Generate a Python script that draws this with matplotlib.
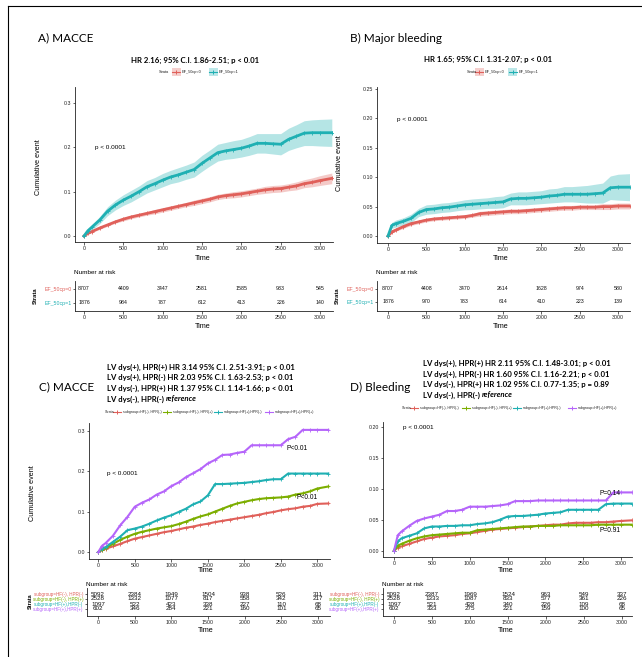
import matplotlib
matplotlib.use('Agg')
import numpy as np
import matplotlib.pyplot as plt
from matplotlib.lines import Line2D
from matplotlib.patches import Rectangle

W, H = 642, 657
NARROW = ['Liberation Sans Narrow', 'Liberation Sans', 'DejaVu Sans']
TITLE = ['Lato', 'DejaVu Sans']
plt.rcParams['font.family'] = NARROW

RED, GREEN, TEAL, PURPLE = '#E0605A', '#7CAE00', '#1FB0B3', '#B565FA'

# ---- data ----
t = [0, 50, 100, 200, 300, 400, 500, 600, 700, 800, 900, 1000, 1100, 1200, 1300, 1400, 1500,
     1600, 1700, 1800, 1900, 2000, 2100, 2200, 2300, 2400, 2500, 2600, 2700, 2800, 2900, 3000, 3150]
risk_times = [0, 500, 1000, 1500, 2000, 2500, 3000]

# A) MACCE
a_ef0 = [0, 0.006, 0.010, 0.018, 0.025, 0.032, 0.038, 0.043, 0.047, 0.051, 0.055, 0.059, 0.063, 0.067,
         0.071, 0.075, 0.079, 0.083, 0.088, 0.091, 0.093, 0.095, 0.098, 0.101, 0.104, 0.106, 0.107,
         0.110, 0.113, 0.118, 0.121, 0.125, 0.130]
a_ef0_hw = [0, 0.002, 0.002, 0.003, 0.003, 0.003, 0.004, 0.004, 0.004, 0.004, 0.005, 0.005, 0.005, 0.005,
            0.005, 0.006, 0.006, 0.006, 0.006, 0.006, 0.007, 0.007, 0.007, 0.007, 0.008, 0.008, 0.008,
            0.008, 0.009, 0.009, 0.010, 0.011, 0.012]
a_ef1 = [0, 0.012, 0.020, 0.036, 0.056, 0.070, 0.081, 0.090, 0.100, 0.111, 0.118, 0.126, 0.133, 0.138,
         0.144, 0.150, 0.164, 0.176, 0.188, 0.192, 0.195, 0.198, 0.203, 0.209, 0.209, 0.208, 0.207,
         0.218, 0.225, 0.232, 0.233, 0.233, 0.233]
a_ef1_hw = [0, 0.004, 0.006, 0.008, 0.010, 0.011, 0.012, 0.013, 0.013, 0.014, 0.014, 0.015, 0.015, 0.016,
            0.016, 0.017, 0.018, 0.018, 0.019, 0.019, 0.020, 0.020, 0.021, 0.022, 0.022, 0.023, 0.024,
            0.025, 0.026, 0.028, 0.029, 0.030, 0.031]
a_risk = [[8707, 4409, 3447, 2581, 1585, 933, 545],
          [1876, 984, 787, 612, 413, 226, 140]]

# B) Major bleeding
b_ef0 = [0, 0.007, 0.010, 0.016, 0.021, 0.024, 0.027, 0.029, 0.030, 0.031, 0.032, 0.033, 0.035, 0.038,
         0.039, 0.040, 0.041, 0.042, 0.042, 0.043, 0.044, 0.045, 0.046, 0.047, 0.048, 0.048, 0.049,
         0.049, 0.049, 0.050, 0.050, 0.051, 0.051]
b_ef0_hw = [0, 0.002, 0.002, 0.003, 0.003, 0.003, 0.003, 0.003, 0.003, 0.003, 0.003, 0.003, 0.003, 0.004,
            0.004, 0.004, 0.004, 0.004, 0.004, 0.004, 0.004, 0.004, 0.004, 0.004, 0.004, 0.004, 0.004,
            0.004, 0.004, 0.005, 0.005, 0.005, 0.005]
b_ef1 = [0, 0.018, 0.021, 0.025, 0.030, 0.040, 0.045, 0.046, 0.048, 0.049, 0.051, 0.053, 0.054, 0.055,
         0.056, 0.057, 0.058, 0.063, 0.064, 0.064, 0.065, 0.066, 0.068, 0.069, 0.071, 0.071, 0.071,
         0.071, 0.072, 0.073, 0.082, 0.083, 0.083]
b_ef1_hw = [0, 0.005, 0.006, 0.006, 0.007, 0.007, 0.008, 0.008, 0.008, 0.008, 0.008, 0.0085, 0.009, 0.009,
            0.009, 0.010, 0.010, 0.010, 0.011, 0.011, 0.011, 0.011, 0.012, 0.012, 0.013, 0.013, 0.014,
            0.015, 0.016, 0.017, 0.020, 0.022, 0.023]
b_risk = [[8707, 4408, 3470, 2614, 1628, 974, 580],
          [1876, 970, 783, 614, 410, 223, 139]]

# C) MACCE by subgroup
c_mm = [0, 0.004, 0.008, 0.014, 0.020, 0.027, 0.033, 0.037, 0.041, 0.045, 0.049, 0.052, 0.056, 0.060,
        0.063, 0.067, 0.070, 0.074, 0.077, 0.080, 0.083, 0.086, 0.089, 0.092, 0.096, 0.099, 0.103,
        0.106, 0.108, 0.112, 0.114, 0.119, 0.120]
c_mp = [0, 0.006, 0.010, 0.020, 0.030, 0.038, 0.045, 0.050, 0.054, 0.058, 0.061, 0.064, 0.069, 0.075,
        0.082, 0.088, 0.093, 0.100, 0.107, 0.114, 0.120, 0.124, 0.128, 0.131, 0.133, 0.134, 0.135,
        0.137, 0.142, 0.145, 0.150, 0.157, 0.162]
c_pm = [0, 0.008, 0.012, 0.025, 0.038, 0.054, 0.058, 0.063, 0.070, 0.078, 0.085, 0.091, 0.099, 0.107,
        0.118, 0.125, 0.140, 0.168, 0.168, 0.169, 0.170, 0.171, 0.173, 0.175, 0.178, 0.180, 0.180,
        0.194, 0.194, 0.194, 0.194, 0.194, 0.194]
c_pp = [0, 0.015, 0.022, 0.040, 0.066, 0.087, 0.112, 0.122, 0.130, 0.142, 0.150, 0.163, 0.172, 0.185,
        0.195, 0.205, 0.219, 0.228, 0.240, 0.241, 0.245, 0.248, 0.264, 0.264, 0.264, 0.264, 0.264,
        0.279, 0.285, 0.302, 0.302, 0.302, 0.302]
c_risk = [[5092, 2384, 1949, 1504, 938, 526, 311],
          [2528, 1332, 1077, 817, 558, 342, 217],
          [1097, 522, 423, 338, 227, 110, 68],
          [602, 346, 284, 221, 160, 101, 65]]

# D) Bleeding by subgroup
d_mm = [0, 0.005, 0.007, 0.011, 0.015, 0.019, 0.021, 0.023, 0.024, 0.025, 0.027, 0.028, 0.030, 0.032,
        0.034, 0.035, 0.036, 0.037, 0.038, 0.039, 0.040, 0.041, 0.042, 0.042, 0.044, 0.045, 0.045,
        0.045, 0.046, 0.046, 0.047, 0.048, 0.049]
d_mp = [0, 0.008, 0.011, 0.016, 0.020, 0.023, 0.025, 0.026, 0.027, 0.028, 0.029, 0.029, 0.033, 0.034,
        0.035, 0.036, 0.037, 0.038, 0.039, 0.039, 0.040, 0.040, 0.040, 0.041, 0.041, 0.041, 0.041,
        0.041, 0.042, 0.042, 0.042, 0.042, 0.042]
d_pm = [0, 0.015, 0.020, 0.024, 0.028, 0.036, 0.039, 0.039, 0.040, 0.040, 0.041, 0.041, 0.043, 0.044,
        0.046, 0.050, 0.055, 0.056, 0.056, 0.057, 0.058, 0.060, 0.061, 0.062, 0.066, 0.066, 0.066,
        0.066, 0.066, 0.075, 0.076, 0.076, 0.076]
d_pp = [0, 0.025, 0.031, 0.040, 0.048, 0.052, 0.055, 0.058, 0.064, 0.064, 0.066, 0.071, 0.071, 0.071,
        0.072, 0.073, 0.075, 0.080, 0.080, 0.080, 0.081, 0.081, 0.081, 0.081, 0.081, 0.081, 0.081,
        0.081, 0.081, 0.081, 0.094, 0.094, 0.094]
d_risk = [[5092, 2387, 1969, 1524, 963, 549, 337],
          [2528, 1333, 1087, 833, 577, 361, 226],
          [1097, 521, 428, 340, 226, 109, 68],
          [602, 333, 275, 221, 159, 100, 65]]

ef_labels = ['EF_50cp=0', 'EF_50cp=1']
sub_labels = ['subgroup=HF(-), HPR(-)', 'subgroup=HF(-), HPR(+)',
              'subgroup=HF(+),HPR(-)', 'subgroup=HF(+),HPR(+)']


fig = plt.figure(figsize=(W / 100, H / 100), dpi=100)
fig.patch.set_facecolor('white')


def add_ax(left, top, right, bottom):
    return fig.add_axes([left / W, 1 - bottom / H, (right - left) / W, (bottom - top) / H])


def px_lim(a, b, p0, p1, v0, v1):
    k = (v1 - v0) / (p1 - p0)
    return v0 + (a - p0) * k, v0 + (b - p0) * k


def ftext(x, y, s, **kw):
    kw.setdefault('ha', 'left')
    kw.setdefault('va', 'center')
    return fig.text(x / W, 1 - y / H, s, **kw)


def style(ax):
    for side in ('top', 'right'):
        ax.spines[side].set_visible(False)
    for side in ('left', 'bottom'):
        ax.spines[side].set_linewidth(0.6)
        ax.spines[side].set_color('#222222')
    ax.tick_params(labelsize=3.8, length=1.8, width=0.5, pad=1.2, colors='#222222')
    ax.set_xticks(risk_times)


def km_panel(box, xmap, ymap, yticks, ylabels, curves, colors, hws=None, lw=2.0, ms=2.4):
    ax = add_ax(*box)
    ax.set_xlim(px_lim(box[0], box[2], xmap[0], xmap[1], 0, 3000))
    ax.set_ylim(px_lim(box[3], box[1], ymap[0], ymap[1], 0, yticks[-1]))
    for i, (y, c) in enumerate(zip(curves, colors)):
        y = np.array(y)
        if hws is not None:
            hw = np.array(hws[i])
            ax.fill_between(t, y - hw, y + hw, color=c, alpha=0.33, lw=0)
        ax.plot(t, y, color=c, lw=lw, solid_joinstyle='round')
        ax.plot(t, y, ls='none', marker='+', ms=ms, mew=0.6, color=c)
    style(ax)
    ax.set_yticks(yticks)
    ax.set_yticklabels(ylabels)
    return ax


def risk_table(box, xmap, rows_px, labels, colors, rows, fs, lab_fs):
    ax = add_ax(*box)
    n = len(rows)
    ax.set_xlim(px_lim(box[0], box[2], xmap[0], xmap[1], 0, 3000))
    ax.set_ylim(px_lim(box[3], box[1], rows_px[-1], rows_px[0], 1, n))
    for i, r in enumerate(rows):
        for tt, v in zip(risk_times, r):
            ax.text(tt, n - i, str(v), ha='center', va='center', fontsize=fs, color='#111111')
    style(ax)
    ax.set_yticks([n - i for i in range(n)])
    ax.set_yticklabels(labels)
    ax.tick_params(axis='y', labelsize=lab_fs, pad=1.0, length=1.5)
    for lbl, c in zip(ax.get_yticklabels(), colors):
        lbl.set_color(c)
    return ax


def legend_row(y, strata_x, xs, labels, colors, box, fs):
    ftext(strata_x, y, 'Strata', fontsize=fs, color='#222222')
    for x, lab, c in zip(xs, labels, colors):
        if box:
            fig.add_artist(Rectangle(((x - 4.5) / W, 1 - (y + 4) / H), 9 / W, 8 / H,
                                     transform=fig.transFigure, color=c, alpha=0.3, lw=0))
        fig.add_artist(Line2D([(x - 4) / W, (x + 4) / W], [1 - y / H, 1 - y / H],
                              transform=fig.transFigure, color=c, lw=0.8))
        fig.add_artist(Line2D([x / W], [1 - y / H], transform=fig.transFigure, color=c,
                              marker='+', ms=3, mew=0.7, ls='none'))
        ftext(x + 6, y, lab, fontsize=fs, color='#222222')


# frame around the figure
fig.add_artist(Line2D([8 / W, 8 / W], [0, 1 - 6 / H], transform=fig.transFigure, color='black', lw=0.8))
fig.add_artist(Line2D([8 / W, 1], [1 - 6 / H, 1 - 6 / H], transform=fig.transFigure, color='black', lw=0.8))

# ---------------- A ----------------
ftext(38, 38, 'A) MACCE', fontsize=8.5, family=TITLE)
ftext(195, 60, 'HR 2.16; 95% C.I. 1.86-2.51; p < 0.01', fontsize=5.6, family=TITLE,
      weight='bold', ha='center')
legend_row(72, 159, [176, 213], ef_labels, [RED, TEAL], True, 2.8)
km_panel((75, 87, 333, 242), (84, 320), (236, 103), [0, 0.1, 0.2, 0.3], ['0.0', '0.1', '0.2', '0.3'],
         [a_ef0, a_ef1], [RED, TEAL], [a_ef0_hw, a_ef1_hw])
ftext(95, 148, 'p < 0.0001', fontsize=4.6)
ftext(203, 258, 'Time', fontsize=5.2, ha='center')
ftext(38, 167, 'Cumulative event', fontsize=5.2, rotation=90, ha='center')
ftext(74, 273, 'Number at risk', fontsize=4.6)
risk_table((75, 281, 333, 311), (84, 320), [289, 303], ef_labels, [RED, TEAL], a_risk, 3.8, 3.8)
ftext(203, 327, 'Time', fontsize=5.2, ha='center')
ftext(35, 296, 'Strata', fontsize=4.2, rotation=90, ha='center', weight='bold')

# ---------------- B ----------------
ftext(350, 38, 'B) Major bleeding', fontsize=8.5, family=TITLE)
ftext(488, 59, 'HR 1.65; 95% C.I. 1.31-2.07; p < 0.01', fontsize=5.6, family=TITLE,
      weight='bold', ha='center')
legend_row(72, 467, [479, 513], ef_labels, [RED, TEAL], True, 2.8)
km_panel((377, 87, 630, 243), (388, 618), (236, 89), [0, 0.05, 0.10, 0.15, 0.20, 0.25],
         ['0.00', '0.05', '0.10', '0.15', '0.20', '0.25'],
         [b_ef0, b_ef1], [RED, TEAL], [b_ef0_hw, b_ef1_hw])
ftext(397, 119, 'p < 0.0001', fontsize=4.6)
ftext(501, 258, 'Time', fontsize=5.2, ha='center')
ftext(340, 163, 'Cumulative event', fontsize=5.2, rotation=90, ha='center')
ftext(376, 273, 'Number at risk', fontsize=4.6)
risk_table((377, 281, 630, 311), (388, 618), [289, 302], ef_labels, [RED, TEAL], b_risk, 3.8, 3.8)
ftext(501, 327, 'Time', fontsize=5.2, ha='center')
ftext(337, 296, 'Strata', fontsize=4.2, rotation=90, ha='center', weight='bold')

# ---------------- C ----------------
SUB_COLORS = [RED, GREEN, TEAL, PURPLE]
ftext(39, 387, 'C) MACCE', fontsize=8.5, family=TITLE)
c_lines = ['LV dys(+), HPR(+) HR 3.14 95% C.I. 2.51-3.91; p < 0.01',
           'LV dys(+), HPR(-) HR 2.03 95% C.I. 1.63-2.53; p < 0.01',
           'LV dys(-), HPR(+) HR 1.37 95% C.I. 1.14-1.66; p < 0.01']
d_lines = ['LV dys(+), HPR(+) HR 2.11 95% C.I. 1.48-3.01; p < 0.01',
           'LV dys(+), HPR(-) HR 1.60 95% C.I. 1.16-2.21; p < 0.01',
           'LV dys(-), HPR(+) HR 1.02 95% C.I. 0.77-1.35; p = 0.89']
renderer = fig.canvas.get_renderer()


def hr_block(x, ys, lines):
    for yy, s in zip(ys, lines):
        ftext(x, yy, s, fontsize=5.6, family=TITLE, weight='bold')
    first = ftext(x, ys[3], 'LV dys(-), HPR(-) ', fontsize=5.6, family=TITLE, weight='bold')
    bb = first.get_window_extent(renderer)
    ftext(bb.x1, ys[3], 'reference', fontsize=5.6, family=TITLE, weight='bold', style='italic')


hr_block(107, [367, 377, 388, 399], c_lines)
legend_row(412, 105, [117, 167, 218, 269], sub_labels, SUB_COLORS, False, 2.6)
ax_c = km_panel((89, 423, 330, 559), (98.3, 317.3), (552, 430.7), [0, 0.1, 0.2, 0.3],
                ['0.0', '0.1', '0.2', '0.3'], [c_mm, c_mp, c_pm, c_pp], SUB_COLORS, lw=1.5, ms=2.2)
ax_c.text(2722, 0.257, 'P<0.01', fontsize=4.8, ha='center', va='center')
ax_c.text(2858, 0.134, 'P<0.01', fontsize=4.8, ha='center', va='center')
ftext(107, 473, 'p < 0.0001', fontsize=4.6)
ftext(206, 571, 'Time', fontsize=5.2, ha='center')
ftext(32, 493, 'Cumulative event', fontsize=5.2, rotation=90, ha='center')
ftext(86, 584, 'Number at risk', fontsize=4.6)
risk_table((87, 588, 330, 616), (98, 318), [594, 599, 604, 609], sub_labels, SUB_COLORS, c_risk, 4.5, 3.3)
ftext(206, 630, 'Time', fontsize=5.2, ha='center')
ftext(30, 601, 'Strata', fontsize=4.0, rotation=90, ha='center', weight='bold')

# ---------------- D ----------------
ftext(350, 387, 'D) Bleeding', fontsize=8.5, family=TITLE)
hr_block(423, [363, 374, 384, 395], d_lines)
legend_row(408, 402, [414, 466, 517, 572], sub_labels, SUB_COLORS, False, 2.6)
ax_d = km_panel((383, 422, 632, 557), (394, 621), (550.7, 426.7), [0, 0.05, 0.10, 0.15, 0.20],
                ['0.00', '0.05', '0.10', '0.15', '0.20'], [d_mm, d_mp, d_pm, d_pp], SUB_COLORS,
                lw=1.5, ms=2.2)
ax_d.text(2855, 0.093, 'P=0.14', fontsize=4.8, ha='center', va='center')
ax_d.text(2855, 0.032, 'P=0.91', fontsize=4.8, ha='center', va='center')
ftext(403, 428, 'p < 0.0001', fontsize=4.6)
ftext(506, 570, 'Time', fontsize=5.2, ha='center')
ftext(382, 584, 'Number at risk', fontsize=4.6)
risk_table((383, 588, 632, 616), (394, 622), [594, 599, 604, 609], sub_labels, SUB_COLORS, d_risk, 4.5, 3.3)
ftext(506, 630, 'Time', fontsize=5.2, ha='center')

fig.savefig('out.png', dpi=100, facecolor='white')
